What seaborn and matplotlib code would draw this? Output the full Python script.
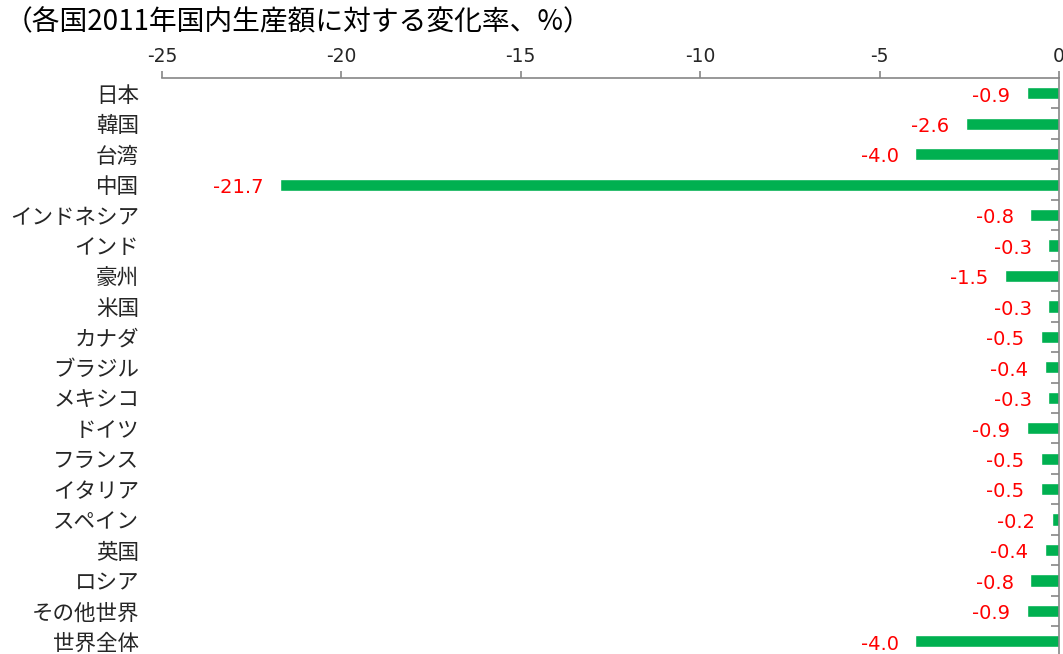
import matplotlib
matplotlib.use("Agg")
import matplotlib.pyplot as plt
import seaborn as sns
import pandas as pd
import numpy as np

# Change in 2011 domestic output by country (%)
countries = ["日本", "韓国", "台湾", "中国", "インドネシア", "インド", "豪州", "米国",
             "カナダ", "ブラジル", "メキシコ", "ドイツ", "フランス", "イタリア",
             "スペイン", "英国", "ロシア", "その他世界", "世界全体"]
change = [-0.9, -2.6, -4.0, -21.7, -0.8, -0.3, -1.5, -0.3, -0.5, -0.4,
          -0.3, -0.9, -0.5, -0.5, -0.2, -0.4, -0.8, -0.9, -4.0]
x_ticks = [-25, -20, -15, -10, -5, 0]
title = "（各国2011年国内生産額に対する変化率、%）"

sns.set_theme(style="white")
plt.rcParams["font.family"] = ["Noto Sans CJK JP", "DejaVu Sans"]

df = pd.DataFrame({"country": countries, "change": change})

fig = plt.figure(figsize=(10.63, 6.54), dpi=100)
ax = fig.add_axes([0.1524, -0.004, 0.9962 - 0.1524, 0.8847])

sns.barplot(data=df, x="change", y="country", orient="h", color="#00B050",
            saturation=1, width=0.4, ax=ax)

ax.set_xlim(-25, 0)
ax.set_ylim(len(countries) - 0.5, -0.5)
ax.set_xlabel("")
ax.set_ylabel("")

# x axis on top
ax.xaxis.tick_top()
ax.set_xticks(x_ticks)
ax.set_xticklabels([str(t) for t in x_ticks], fontsize=13.5, family="DejaVu Sans")
ax.tick_params(axis="x", which="major", top=True, bottom=False, direction="out",
               length=5, width=1.2, color="#868686", pad=4)

# category labels on the left, separator ticks on the zero line
ax.yaxis.set_ticks_position("both")
ax.tick_params(axis="y", which="major", left=False, right=False,
               labelleft=True, labelright=False, labelsize=15.5, pad=10.5)
ax.set_yticks(np.arange(0.5, len(countries) - 1, 1.0), minor=True)
ax.tick_params(axis="y", which="minor", left=False, right=True, direction="in",
               length=6, width=1.2, color="#868686")

for side in ["left", "bottom"]:
    ax.spines[side].set_visible(False)
for side in ["top", "right"]:
    ax.spines[side].set_visible(True)
    ax.spines[side].set_color("#868686")
    ax.spines[side].set_linewidth(1.2)

# value labels
for i, v in enumerate(change):
    ax.annotate(f"{v:.1f}", xy=(v, i), xytext=(-12, -2), textcoords="offset points",
                ha="right", va="center", color="#FF0000", fontsize=14,
                family="DejaVu Sans")

fig.text(0.004, 0.966, title, fontsize=20, ha="left", va="center", color="#000000")

fig.savefig("out.png", dpi=100)
